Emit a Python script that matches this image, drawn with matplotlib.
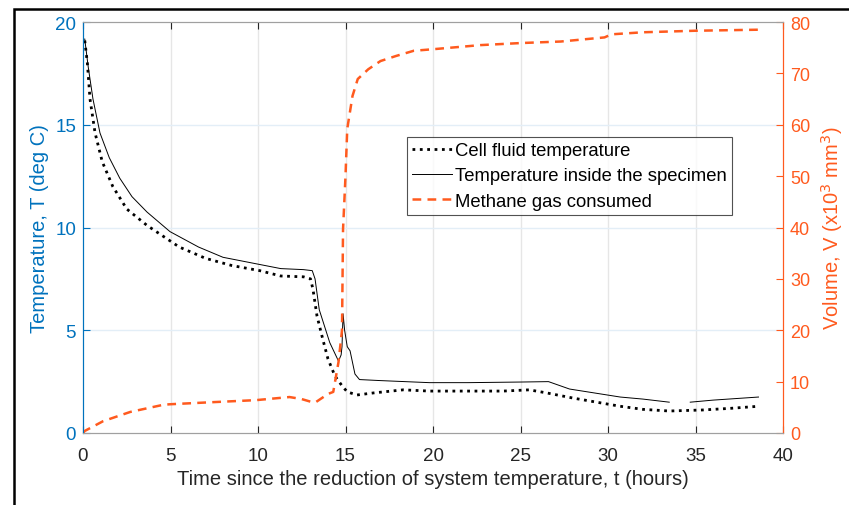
import numpy as np
import matplotlib.pyplot as plt
from matplotlib.patches import Rectangle

plt.rcParams['font.family'] = ['Liberation Sans', 'DejaVu Sans']

# temperature inside the specimen (solid)
t_in = [0.1, 0.3, 0.57, 0.97, 1.5, 2.1, 2.8, 3.66, 4.97, 6.6, 8.0, 10.1, 11.3, 12.6, 13.1,
        13.26, 13.5, 14.1, 14.6, 14.75, 14.8, 14.86, 14.95, 15.1, 15.26, 15.54, 15.8, 17.0,
        19.8, 22.0, 25.0, 26.6, 27.8, 30.7, 32.0, 33.5, 34.1, 34.7, 36.0, 38.6]
T_in = [19.17, 17.8, 16.25, 14.6, 13.4, 12.4, 11.5, 10.75, 9.8, 9.05, 8.55, 8.2, 8.0, 7.95, 7.9,
        7.5, 6.0, 4.4, 3.5, 3.8, 4.2, 5.8, 5.0, 4.2, 4.0, 2.87, 2.6, 2.55,
        2.45, 2.45, 2.48, 2.5, 2.14, 1.75, 1.65, 1.5, np.nan, 1.5, 1.6, 1.75]

# cell fluid temperature (dotted)
t_cell = [0.1, 0.25, 0.4, 0.69, 1.1, 1.7, 2.5, 3.66, 5.5, 7.0, 8.5, 10.1, 11.3, 12.6, 13.0,
          13.14, 13.37, 13.7, 14.0, 14.4, 14.8, 15.1, 15.66, 16.6, 18.3, 19.8, 22.0, 24.0,
          25.5, 26.5, 28.0, 30.7, 32.0, 33.5, 35.4, 37.0, 38.6]
T_cell = [19.1, 18.0, 16.25, 14.6, 13.2, 12.0, 10.9, 10.1, 9.05, 8.5, 8.15, 7.9, 7.64, 7.6, 7.5,
          7.0, 5.7, 4.57, 3.6, 2.77, 2.3, 2.0, 1.85, 1.95, 2.1, 2.04, 2.04, 2.04,
          2.1, 1.95, 1.7, 1.3, 1.15, 1.07, 1.12, 1.2, 1.3]

# methane gas consumed (x10^3 mm^3)
t_gas = [0, 0.1, 1.15, 2.7, 4.6, 5.0, 7.4, 9.9, 11.8, 12.5, 13.1, 13.3, 14.0, 14.3, 14.6,
         14.8, 14.86, 15.0, 15.1, 15.4, 15.7, 16.3, 17.0, 17.9, 18.9, 20.0, 22.7, 25.0,
         27.3, 29.8, 30.2, 32.0, 35.0, 38.6]
V_gas = [0, 0.4, 2.3, 4.1, 5.5, 5.6, 6.0, 6.4, 7.0, 6.6, 6.0, 6.0, 7.6, 8.0, 13.8,
         20.0, 39.7, 50.0, 59.2, 65.6, 68.9, 70.8, 72.4, 73.4, 74.4, 74.7, 75.5, 75.9,
         76.2, 77.0, 77.6, 78.0, 78.3, 78.5]

blue = '#0072BD'
orange = '#FF5A1E'

fig = plt.figure(figsize=(8.49, 5.06), dpi=100)
ax = fig.add_axes([83/849, 1-434/506, 700/849, 411/506])
ax2 = ax.twinx()

l1, = ax.plot(t_cell, T_cell, ls=':', color='black', lw=2.0, label='Cell fluid temperature')
l2, = ax.plot(t_in, T_in, ls='-', color='black', lw=0.7, label='Temperature inside the specimen')
l3, = ax2.plot(t_gas, V_gas, ls=(0, (3.5, 2.5)), color=orange, lw=1.8, label='Methane gas consumed')

ax.set_xlim(0, 40)
ax.set_ylim(0, 20)
ax2.set_ylim(0, 80)
ax.set_xticks(range(0, 41, 5))
ax.set_yticks(range(0, 21, 5))
ax2.set_yticks(range(0, 81, 10))

# grid: vertical gray, horizontal light blue
for x in range(5, 40, 5):
    ax.axvline(x, color='#e6e6e6', lw=1.0, zorder=0)
for y in range(5, 20, 5):
    ax.axhline(y, color='#e3eef7', lw=1.0, zorder=0)

ax.tick_params(axis='x', direction='in', length=5, labelsize=13.5, colors='#262626', top=True, pad=10)
ax.tick_params(axis='y', direction='in', length=5, labelsize=13.5, colors=blue, pad=5)
ax2.tick_params(axis='y', direction='in', length=5, labelsize=13, colors=orange, pad=5)

for a in (ax, ax2):
    a.spines['top'].set_color('#a0a0a0')
    a.spines['bottom'].set_color('#a0a0a0')
    a.spines['left'].set_color(blue)
    a.spines['right'].set_color(orange)

ax.set_xlabel('Time since the reduction of system temperature, t (hours)', fontsize=14.5,
              color='#262626')
ax.set_ylabel('Temperature, T (deg C)', fontsize=14.5, color=blue)
ax2.set_ylabel('Volume, V (x10$^3$ mm$^3$)', fontsize=14.5, color=orange)
ax.xaxis.set_label_coords(0.5, (434 - 480) / 411, transform=ax.transAxes)
ax.yaxis.set_label_coords((40 - 83) / 700, 0.5)
ax2.yaxis.set_label_coords((832 - 83) / 700, 0.5)
ax.xaxis.label.set_va('center')
ax.yaxis.label.set_va('center')
ax2.yaxis.label.set_va('center')

leg = fig.legend(handles=[l1, l2, l3], loc='upper left', bbox_to_anchor=(407/849, 1-138/506),
                 fontsize=13.3, frameon=True, fancybox=False, edgecolor='#262626',
                 handlelength=2.15, handletextpad=0.15, borderpad=0.28, labelspacing=0.45,
                 borderaxespad=0)
leg.get_frame().set_linewidth(0.8)

# outer figure frame
fig.patches.append(Rectangle((14/849, -0.1), 1.2, 1.1 - 10/506, transform=fig.transFigure,
                             fill=False, edgecolor='black', lw=1.8, clip_on=False))

fig.savefig('out.png', dpi=100)
